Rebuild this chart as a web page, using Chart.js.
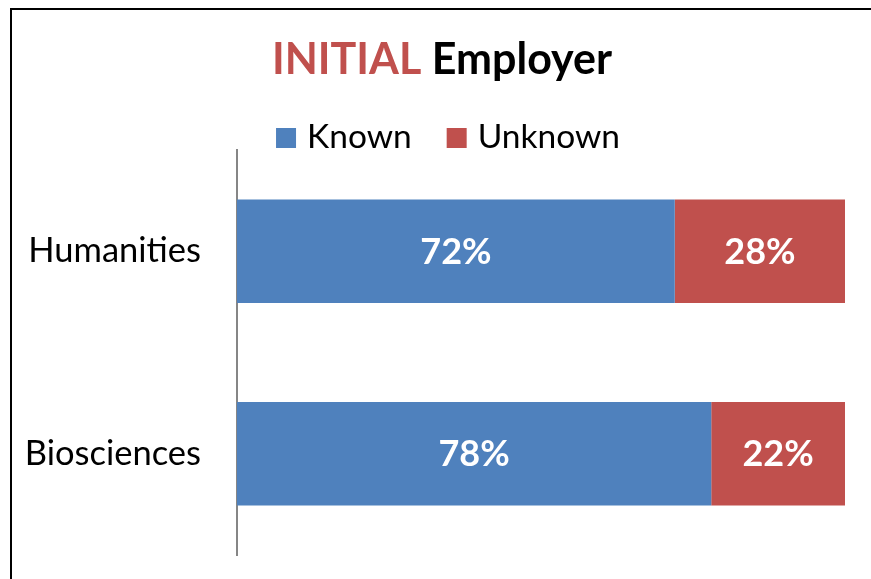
<!DOCTYPE html>
<html>
<head>
<meta charset="utf-8">
<script src="https://cdn.jsdelivr.net/npm/chart.js@4"></script>
<style>
  html, body { margin: 0; padding: 0; background: #fff; }
  #wrap { width: 871px; height: 579px; }
</style>
</head>
<body>
<div id="wrap"><canvas id="c" width="871" height="579"></canvas></div>
<script>
// data
const categories = ["Humanities", "Biosciences"];
const known = [72, 78];
const unknown = [28, 22];
const seriesNames = ["Known", "Unknown"];
const titleParts = ["INITIAL", "Employer"];

const BLUE = "#4F81BD";
const RED = "#C0504D";
const FONT = "Lato, 'Open Sans', sans-serif";

// frame, title and legend
const header = {
    id: "header",
    beforeDraw(chart) {
        const ctx = chart.ctx;
        ctx.save();
        ctx.fillStyle = "#fff";
        ctx.fillRect(0, 0, chart.width, chart.height);
        ctx.fillStyle = "#000";
        ctx.fillRect(10, 8, chart.width - 10, 2);
        ctx.fillRect(10, 8, 2, chart.height - 8);

        // title
        ctx.font = "bold 43px " + FONT;
        ctx.textBaseline = "alphabetic";
        const w1 = ctx.measureText(titleParts[0] + " ").width;
        const w2 = ctx.measureText(titleParts[1]).width;
        let x = 442 - (w1 + w2) / 2;
        ctx.textAlign = "left";
        ctx.fillStyle = RED;
        ctx.fillText(titleParts[0], x, 74);
        ctx.fillStyle = "#000";
        ctx.fillText(titleParts[1], x + w1, 74);

        // legend
        ctx.font = "33.5px " + FONT;
        const colors = chart.data.datasets.map(d => d.backgroundColor);
        const widths = seriesNames.map(n => ctx.measureText(n).width);
        const total = widths.reduce((a, w) => a + 20 + 11 + w, 0) + 35;
        x = 448 - total / 2;
        seriesNames.forEach((n, i) => {
            ctx.fillStyle = colors[i];
            ctx.fillRect(x, 128, 20, 20);
            ctx.fillStyle = "#000";
            ctx.fillText(n, x + 31, 148);
            x += 31 + widths[i] + 35;
        });
        ctx.restore();
    }
};

// value labels inside the bars
const barLabels = {
    id: "barLabels",
    afterDatasetsDraw(chart) {
        const ctx = chart.ctx;
        ctx.save();
        ctx.font = "bold 36px " + FONT;
        ctx.fillStyle = "#fff";
        ctx.textAlign = "center";
        ctx.textBaseline = "middle";
        chart.data.datasets.forEach((ds, i) => {
            chart.getDatasetMeta(i).data.forEach((bar, j) => {
                const p = bar.getCenterPoint();
                ctx.fillText(ds.data[j] + "%", p.x, p.y + 1);
            });
        });
        ctx.restore();
    }
};

new Chart(document.getElementById("c"), {
    type: "bar",
    data: {
        labels: categories,
        datasets: [
            { label: seriesNames[0], data: known, backgroundColor: BLUE },
            { label: seriesNames[1], data: unknown, backgroundColor: RED }
        ]
    },
    options: {
        indexAxis: "y",
        responsive: false,
        animation: false,
        layout: { padding: { left: 0, right: 26, top: 150, bottom: 24 } },
        datasets: { bar: { categoryPercentage: 1, barPercentage: 0.51, borderWidth: 0 } },
        plugins: {
            legend: { display: false },
            title: { display: false },
            tooltip: { enabled: false }
        },
        scales: {
            x: { stacked: true, min: 0, max: 100, display: false },
            y: {
                stacked: true,
                grid: { display: false, drawTicks: false },
                border: { display: true, color: "#868686", width: 2 },
                ticks: { color: "#000", padding: 36, font: { family: FONT, size: 34.5 } },
                afterFit: s => {
                    s.width = 237;
                    s.paddingTop = 0;
                    s.paddingBottom = 0;
                }
            }
        }
    },
    plugins: [header, barLabels]
});
</script>
</body>
</html>
